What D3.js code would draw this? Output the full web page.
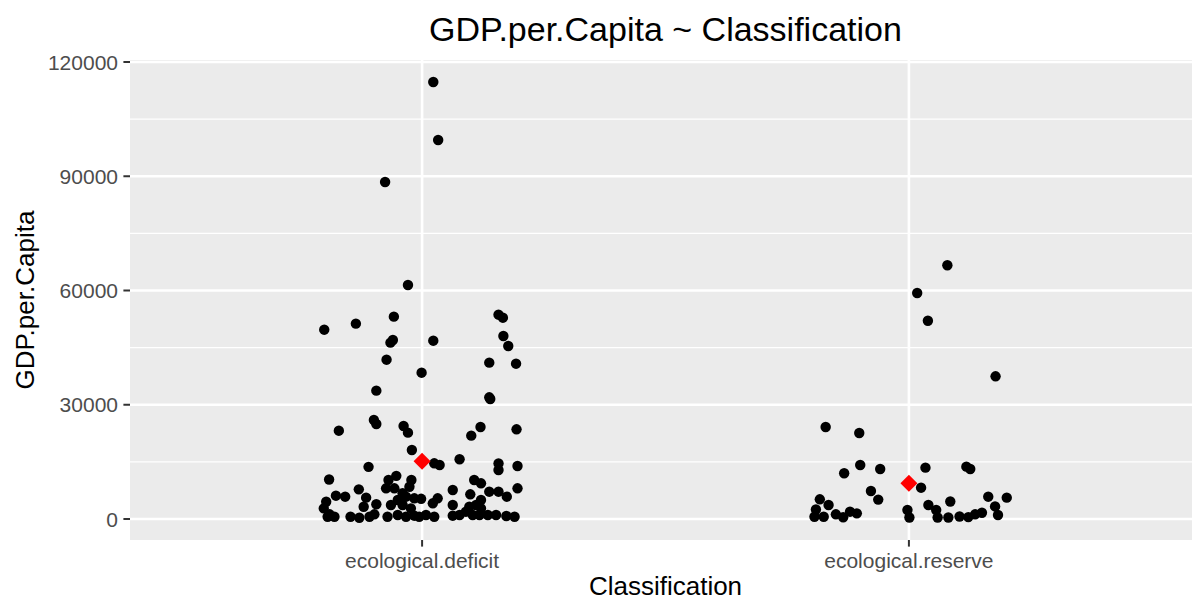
<!DOCTYPE html>
<html>
<head>
<meta charset="utf-8">
<script src="https://cdn.jsdelivr.net/npm/d3@7"></script>
<style>
  html, body { margin: 0; padding: 0; background: #ffffff; }
  svg { display: block; }
  text { font-family: "Liberation Sans", Arial, Helvetica, sans-serif; }
</style>
</head>
<body>
<svg id="chart" width="1192" height="601"></svg>
<script>
// ---- data ----
const categories = ["ecological.deficit", "ecological.reserve"];

// horizontal jitter offsets (category units) and GDP per capita values
const deficitJitter = [
  0.023, 0.033, -0.076, -0.029, -0.201, -0.136, -0.058, -0.060, -0.065, 0.023,
  -0.073, -0.001, -0.094, -0.099, -0.094, -0.171, -0.038, -0.029, 0.157, 0.166,
  0.167, 0.177, 0.138, 0.193, 0.138, 0.140, 0.120, 0.194, 0.101, -0.021,
  0.025, 0.036, 0.077, -0.110, 0.157, 0.157, 0.196, -0.191, -0.053, -0.069,
  -0.022, 0.107, 0.121, 0.196, 0.063, 0.099, 0.138, 0.157, 0.174, 0.121,
  0.111, 0.063, 0.032, 0.022, -0.002, 0.008, 0.025, 0.063, 0.077, 0.090,
  0.104, 0.118, 0.135, 0.152, 0.173, 0.190, 0.097, 0.121, -0.197, -0.177,
  -0.158, -0.202, -0.190, -0.194, -0.180, -0.130, -0.115, -0.120, -0.094, -0.147,
  -0.129, -0.108, -0.098, -0.074, -0.057, -0.026, -0.040, -0.050, -0.033, -0.016,
  -0.064, -0.040, -0.023, -0.071, -0.050, -0.033, -0.016, -0.006
];
const deficitGDP = [
  114750, 99520, 88490, 61450, 49710, 51290, 53130, 47000, 46300, 46820,
  41830, 38420, 33700, 26000, 24950, 23190, 24420, 22670, 53650, 52860,
  48050, 45430, 41050, 40780, 31950, 31510, 24160, 23550, 21880, 18120,
  14620, 14180, 15700, 13700, 14600, 12870, 13920, 10370, 11330, 10240,
  10240, 10240, 9370, 8060, 7620, 6480, 7170, 7170, 5860, 4990,
  3680, 3680, 5430, 4120, 5300, 1050, 600, 870, 1050, 1920,
  1050, 1050, 1050, 1050, 800, 600, 3230, 2800, 4540, 6120,
  5860, 2800, 1230, 600, 600, 7790, 5600, 3230, 3860, 600,
  340, 600, 1230, 8060, 8060, 8480, 6750, 4990, 5860, 5430,
  3680, 3680, 2800, 600, 1050, 600, 870, 600
];

const reserveJitter = [
  0.079, 0.017, 0.039, 0.178, -0.171, -0.102, -0.100, -0.133, -0.059, 0.034,
  0.118, 0.126, 0.025, -0.078, -0.063, -0.183, -0.165, -0.191, -0.194, -0.175,
  -0.150, -0.135, -0.121, -0.107, -0.003, 0.001, 0.040, 0.056, 0.059, 0.085,
  0.081, 0.104, 0.122, 0.136, 0.150, 0.163, 0.177, 0.183, 0.201
];
const reserveGDP = [
  66620, 59340, 52070, 37470, 24150, 22580, 14180, 12000, 13130, 13480,
  13740, 13130, 8220, 7350, 5100, 5170, 3680, 2500, 600, 600,
  1230, 450, 1920, 1490, 2360, 400, 3680, 2360, 400, 4600,
  400, 650, 500, 1230, 1650, 5860, 3300, 1050, 5600
];

const groupMeans = [15150, 9370];

const yTicks = [0, 30000, 60000, 90000, 120000];
const yMinorTicks = [15000, 45000, 75000, 105000];
const yTickLabels = ["0", "30000", "60000", "90000", "120000"];

const titleText = "GDP.per.Capita ~ Classification";
const xTitle = "Classification";
const yTitle = "GDP.per.Capita";

// ---- layout ----
const svg = d3.select("#chart");
const panel = { left: 130, right: 1201, top: 60, bottom: 540 };

const x = d3.scaleLinear().domain([0.4, 2.6]).range([panel.left, panel.right]);
const y = d3.scaleLinear().domain([-5514, 120525]).range([panel.bottom, panel.top]);

svg.append("defs").append("clipPath").attr("id", "pclip")
  .append("rect").attr("x", panel.left).attr("y", panel.top)
  .attr("width", panel.right - panel.left).attr("height", panel.bottom - panel.top);

const g = svg.append("g").attr("clip-path", "url(#pclip)");

g.append("rect")
  .attr("x", panel.left).attr("y", panel.top)
  .attr("width", panel.right - panel.left).attr("height", panel.bottom - panel.top)
  .attr("fill", "#EBEBEB");

// minor grid
g.selectAll(".yminor").data(yMinorTicks).enter().append("line")
  .attr("x1", panel.left).attr("x2", panel.right)
  .attr("y1", d => y(d)).attr("y2", d => y(d))
  .attr("stroke", "#ffffff").attr("stroke-width", 1.3);

// major grid
g.selectAll(".ymajor").data(yTicks).enter().append("line")
  .attr("x1", panel.left).attr("x2", panel.right)
  .attr("y1", d => y(d)).attr("y2", d => y(d))
  .attr("stroke", "#ffffff").attr("stroke-width", 2.6);

g.selectAll(".xmajor").data(categories).enter().append("line")
  .attr("x1", (d, i) => x(i + 1)).attr("x2", (d, i) => x(i + 1))
  .attr("y1", panel.top).attr("y2", panel.bottom)
  .attr("stroke", "#ffffff").attr("stroke-width", 2.6);

// points
const pts = [];
deficitGDP.forEach((v, i) => pts.push({ xv: 1 + deficitJitter[i], yv: v }));
reserveGDP.forEach((v, i) => pts.push({ xv: 2 + reserveJitter[i], yv: v }));

g.selectAll(".pt").data(pts).enter().append("circle")
  .attr("cx", d => x(d.xv)).attr("cy", d => y(d.yv))
  .attr("r", 5.2).attr("fill", "#000000");

// means (red diamonds)
const dSize = 8.5;
g.selectAll(".mean").data(groupMeans).enter().append("path")
  .attr("d", (d, i) => {
    const cx = x(i + 1), cy = y(d);
    return `M${cx},${cy - dSize}L${cx + dSize},${cy}L${cx},${cy + dSize}L${cx - dSize},${cy}Z`;
  })
  .attr("fill", "#FF0000");

// y axis ticks and labels
const yAxis = svg.append("g");
yAxis.selectAll("line").data(yTicks).enter().append("line")
  .attr("x1", panel.left - 6.6).attr("x2", panel.left)
  .attr("y1", d => y(d)).attr("y2", d => y(d))
  .attr("stroke", "#333333").attr("stroke-width", 2);
yAxis.selectAll("text").data(yTicks).enter().append("text")
  .attr("x", panel.left - 12).attr("y", d => y(d))
  .attr("dy", "0.36em")
  .attr("text-anchor", "end")
  .attr("font-size", 21)
  .attr("fill", "#4D4D4D")
  .text((d, i) => yTickLabels[i]);

// x axis ticks and labels
const xAxis = svg.append("g");
xAxis.selectAll("line").data(categories).enter().append("line")
  .attr("x1", (d, i) => x(i + 1)).attr("x2", (d, i) => x(i + 1))
  .attr("y1", panel.bottom).attr("y2", panel.bottom + 6.6)
  .attr("stroke", "#333333").attr("stroke-width", 2);
xAxis.selectAll("text").data(categories).enter().append("text")
  .attr("x", (d, i) => x(i + 1)).attr("y", 568)
  .attr("text-anchor", "middle")
  .attr("font-size", 21)
  .attr("fill", "#4D4D4D")
  .text(d => d);

// titles
const cx = (panel.left + panel.right) / 2;
svg.append("text")
  .attr("x", cx).attr("y", 41)
  .attr("text-anchor", "middle")
  .attr("font-size", 34)
  .attr("fill", "#000000")
  .text(titleText);

svg.append("text")
  .attr("x", cx).attr("y", 595)
  .attr("text-anchor", "middle")
  .attr("font-size", 26)
  .attr("fill", "#000000")
  .text(xTitle);

svg.append("text")
  .attr("transform", `translate(34,${(panel.top + panel.bottom) / 2}) rotate(-90)`)
  .attr("text-anchor", "middle")
  .attr("font-size", 26)
  .attr("fill", "#000000")
  .text(yTitle);
</script>
</body>
</html>
